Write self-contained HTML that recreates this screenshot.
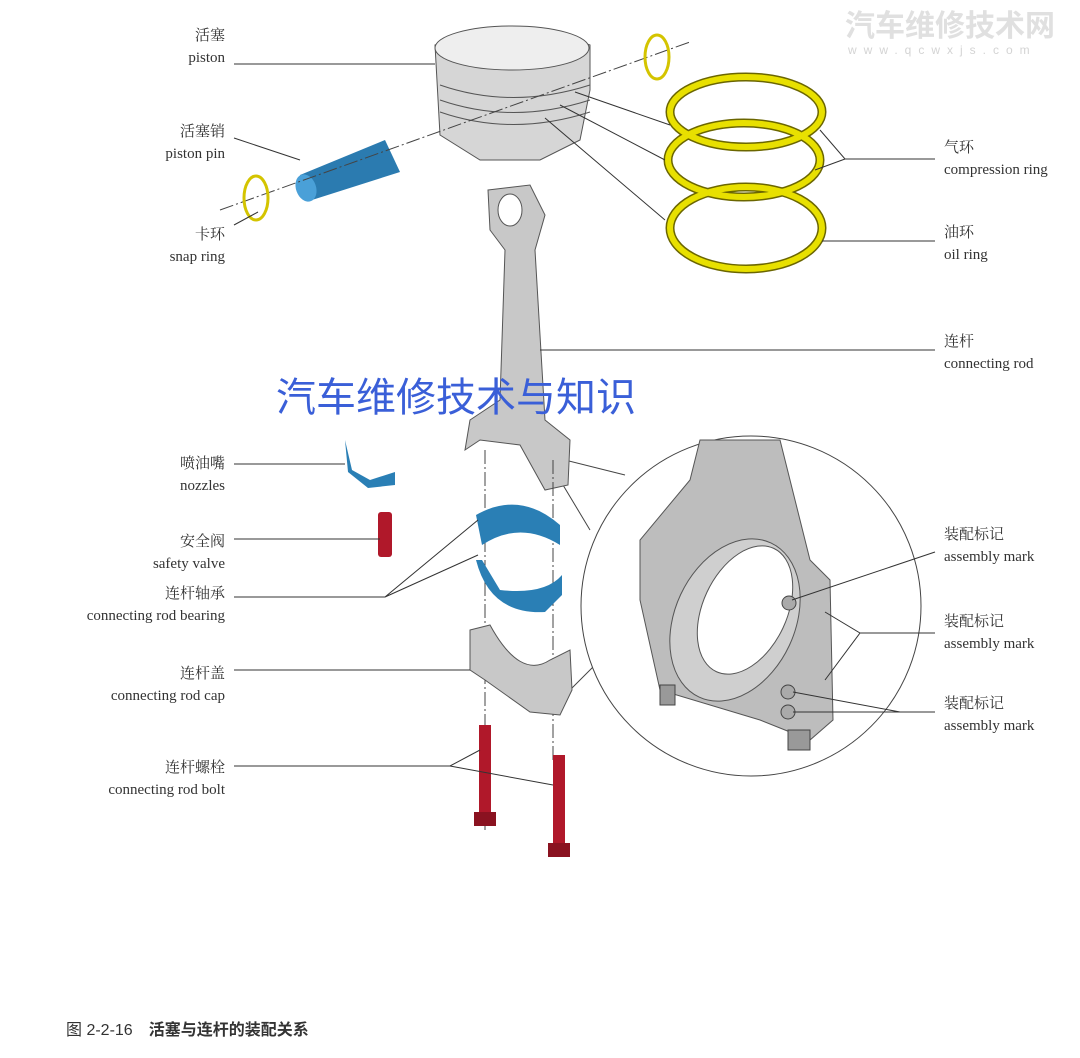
<!DOCTYPE html>
<html><head><meta charset="utf-8"><style>
body{margin:0;background:#fff;}
svg{display:block}
.l{font-family:"Liberation Serif","Noto Serif CJK SC",serif;font-size:15px;fill:#333}
.c{font-family:"Liberation Sans","Noto Sans CJK SC",sans-serif;font-size:16px;fill:#333}
</style></head><body>
<svg width="1080" height="1058" viewBox="0 0 1080 1058" xmlns="http://www.w3.org/2000/svg">
<text x="845" y="36" font-family="Noto Sans CJK SC,sans-serif" font-size="30" font-weight="bold" fill="#e0e0e0">汽车维修技术网</text>
<text x="848" y="54" font-family="Liberation Sans,sans-serif" font-size="12" fill="#d4d4d4" letter-spacing="7">www.qcwxjs.com</text>

<path d="M583 600 L600 660 L570 690 M590 530 L545 455 L625 475" fill="none" stroke="#444" stroke-width="1"/>
<circle cx="751" cy="606" r="170" fill="#fff" stroke="#444" stroke-width="1"/>
<path d="M700 440 L780 440 L810 560 L830 580 L833 720 L810 740 L760 720 L660 690 L640 600 L640 540 L690 480 Z" fill="#bdbdbd" stroke="#555"/>
<ellipse cx="735" cy="620" rx="60" ry="85" fill="#cfcfcf" stroke="#555" transform="rotate(25 735 620)"/>
<ellipse cx="745" cy="610" rx="42" ry="68" fill="#fff" stroke="#555" transform="rotate(25 745 610)"/>
<rect x="660" y="685" width="15" height="20" fill="#999" stroke="#444"/>
<rect x="788" y="730" width="22" height="20" fill="#999" stroke="#444"/>
<circle cx="789" cy="603" r="7" fill="#aaa" stroke="#444"/>
<circle cx="788" cy="692" r="7" fill="#aaa" stroke="#444"/>
<circle cx="788" cy="712" r="7" fill="#aaa" stroke="#444"/>

<path d="M435 45 Q510 15 590 45 L590 90 L580 140 L540 160 L480 160 L440 135 Z" fill="#d6d6d6" stroke="#555"/>
<ellipse cx="512" cy="48" rx="77" ry="22" fill="#eee" stroke="#555"/>
<path d="M440 85 Q512 110 590 85 M440 100 Q512 125 590 100 M440 112 Q512 137 590 112" fill="none" stroke="#555"/>
<path d="M300 175 L385 140 L400 172 L312 200 Z" fill="#2b7bb0"/>
<ellipse cx="306" cy="188" rx="10" ry="14" fill="#4aa0d8" transform="rotate(-20 306 188)"/>
<line x1="220" y1="210" x2="690" y2="42" stroke="#444" stroke-dasharray="14 3 2 3"/>
<ellipse cx="657" cy="57" rx="12" ry="22" fill="none" stroke="#d4c400" stroke-width="3"/>
<ellipse cx="256" cy="198" rx="12" ry="22" fill="none" stroke="#d4c400" stroke-width="3"/>
<g fill="none" stroke="#6b6600" stroke-width="9">
<ellipse cx="746" cy="112" rx="76" ry="35"/>
<ellipse cx="744" cy="160" rx="76" ry="37"/>
<ellipse cx="746" cy="228" rx="76" ry="41"/>
</g>
<g fill="none" stroke="#e8e000" stroke-width="6">
<ellipse cx="746" cy="112" rx="76" ry="35"/>
<ellipse cx="744" cy="160" rx="76" ry="37"/>
<ellipse cx="746" cy="228" rx="76" ry="41"/>
</g>
<path d="M488 190 L530 185 L545 215 L535 250 L545 420 L570 440 L568 485 L545 490 L520 445 L480 440 L465 450 L470 420 L500 400 L505 250 L490 230 Z" fill="#c8c8c8" stroke="#555"/>
<ellipse cx="510" cy="210" rx="12" ry="16" fill="#fff" stroke="#555"/>
<line x1="485" y1="450" x2="485" y2="830" stroke="#444" stroke-dasharray="14 3 2 3"/>
<line x1="553" y1="460" x2="553" y2="760" stroke="#444" stroke-dasharray="14 3 2 3"/>
<path d="M476 515 Q520 490 560 525 L560 545 Q520 520 482 545 Z" fill="#2a7fb5"/>
<path d="M476 560 Q490 615 545 612 L562 595 L562 575 Q545 595 500 590 L482 560 Z" fill="#2a7fb5"/>
<path d="M470 630 L490 625 Q520 680 550 660 L570 650 L572 690 L560 715 L530 712 L485 680 L470 670 Z" fill="#c8c8c8" stroke="#555"/>
<rect x="479" y="725" width="12" height="90" fill="#b0182a"/>
<rect x="474" y="812" width="22" height="14" fill="#8a1220"/>
<rect x="553" y="755" width="12" height="90" fill="#b0182a"/>
<rect x="548" y="843" width="22" height="14" fill="#8a1220"/>
<path d="M345 440 L352 470 L370 480 L395 472 L395 485 L368 488 L348 472 Z" fill="#2a7fb5"/>
<rect x="378" y="512" width="14" height="45" rx="3" fill="#b0182a"/>

<g stroke="#333" stroke-width="1" fill="none">
<line x1="234" y1="64" x2="435" y2="64"/>
<line x1="234" y1="138" x2="300" y2="160"/>
<line x1="234" y1="225" x2="258" y2="212"/>
<line x1="234" y1="464" x2="345" y2="464"/>
<line x1="234" y1="539" x2="380" y2="539"/>
<path d="M234 597 L385 597 L478 520 M385 597 L478 555"/>
<line x1="234" y1="670" x2="470" y2="670"/>
<path d="M234 766 L450 766 L480 750 M450 766 L553 785"/>
<path d="M935 159 L845 159 L820 130 M845 159 L815 170"/>
<line x1="935" y1="241" x2="822" y2="241"/>
<line x1="935" y1="350" x2="540" y2="350"/>
<path d="M575 92 L670 125 M560 105 L665 160 M545 118 L665 220"/>
<line x1="935" y1="552" x2="792" y2="600"/>
<path d="M935 633 L860 633 L825 612 M860 633 L825 680"/>
<path d="M935 712 L900 712 L793 692 M900 712 L793 712"/>
</g>

<g class="l" text-anchor="end">
<text x="225" y="40">活塞</text><text x="225" y="62">piston</text>
<text x="225" y="136">活塞销</text><text x="225" y="158">piston pin</text>
<text x="225" y="239">卡环</text><text x="225" y="261">snap ring</text>
<text x="225" y="468">喷油嘴</text><text x="225" y="490">nozzles</text>
<text x="225" y="546">安全阀</text><text x="225" y="568">safety valve</text>
<text x="225" y="598">连杆轴承</text><text x="225" y="620">connecting rod bearing</text>
<text x="225" y="678">连杆盖</text><text x="225" y="700">connecting rod cap</text>
<text x="225" y="772">连杆螺栓</text><text x="225" y="794">connecting rod bolt</text>
</g>
<g class="l">
<text x="944" y="152">气环</text><text x="944" y="174">compression ring</text>
<text x="944" y="237">油环</text><text x="944" y="259">oil ring</text>
<text x="944" y="346">连杆</text><text x="944" y="368">connecting rod</text>
<text x="944" y="539">装配标记</text><text x="944" y="561">assembly mark</text>
<text x="944" y="626">装配标记</text><text x="944" y="648">assembly mark</text>
<text x="944" y="708">装配标记</text><text x="944" y="730">assembly mark</text>
</g>
<text x="276" y="411" font-family="Noto Sans CJK SC,sans-serif" font-size="40" fill="#3a5fd8">汽车维修技术与知识</text>
<text x="66" y="1035" class="c" font-size="19">图 2-2-16　<tspan font-weight="bold">活塞与连杆的装配关系</tspan></text>
</svg>
</body></html>
